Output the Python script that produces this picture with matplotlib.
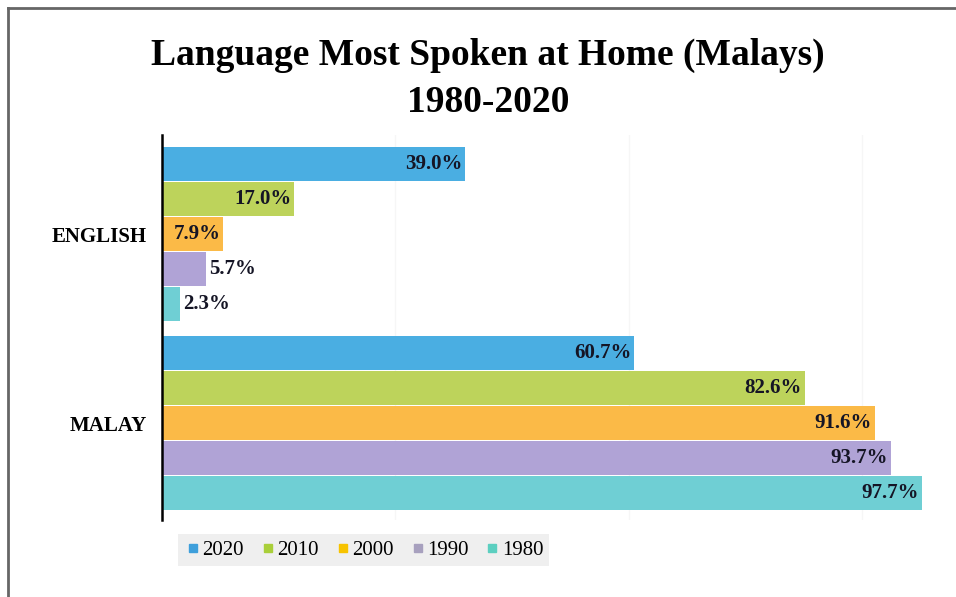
import numpy as np
import matplotlib.pyplot as plt
from matplotlib.lines import Line2D

languages = ['ENGLISH', 'MALAY']
years = ['2020', '2010', '2000', '1990', '1980']
english = [39.0, 17.0, 7.9, 5.7, 2.3]
malay = [60.7, 82.6, 91.6, 93.7, 97.7]
colors = ['#4AAEE2', '#BDD35B', '#FBBA47', '#B0A3D6', '#6FCFD4']
legend_colors = ['#3E9FDB', '#A9CF3A', '#F7C300', '#A7A0BE', '#5CCFC0']

serif = 'Liberation Serif'

fig = plt.figure(figsize=(9.56, 5.97), dpi=100)
ax = fig.add_axes([162 / 956, 1 - 520 / 597, (940 - 162) / 956, (520 - 135) / 597])

bar_h = 0.185
values = np.array([english, malay])  # rows: language, cols: year
y_base = np.arange(len(languages))
offsets = (np.arange(len(years)) - 2) * bar_h

for j, yr in enumerate(years):
    ys = y_base + offsets[j]
    bars = ax.barh(ys, values[:, j], height=bar_h * 0.96, color=colors[j], label=yr)
    for b, v in zip(bars, values[:, j]):
        yc = b.get_y() + b.get_height() / 2
        # labels go inside the bar end when they fit, otherwise just outside
        if v >= 7.5:
            ax.text(v - 0.4, yc, f'{v:.1f}%', ha='right', va='center',
                    fontsize=15, fontweight='bold', family=serif, color='#151525')
        else:
            ax.text(v + 0.4, yc, f'{v:.1f}%', ha='left', va='center',
                    fontsize=15, fontweight='bold', family=serif, color='#151525')

ax.set_xlim(0, 100)
ax.set_ylim(1.513, -0.524)
ax.set_yticks(y_base)
ax.set_yticklabels(languages, fontsize=15, fontweight='bold', family=serif)
ax.tick_params(axis='y', length=0, pad=11)
ax.set_xticks([30, 60, 90])
ax.set_xticklabels([])
ax.tick_params(axis='x', length=0)
ax.grid(axis='x', color='#f6f6f6', linewidth=1)
ax.set_axisbelow(True)
for s in ['top', 'right', 'bottom']:
    ax.spines[s].set_visible(False)
ax.spines['left'].set_linewidth(1.8)
ax.spines['left'].set_color('black')

fig.text(488 / 956, 1 - 55 / 597, 'Language Most Spoken at Home (Malays)', ha='center', va='center',
         fontsize=27, fontweight='bold', family=serif)
fig.text(488 / 956, 1 - 102 / 597, '1980-2020', ha='center', va='center',
         fontsize=27, fontweight='bold', family=serif)

handles = [Line2D([], [], marker='s', linestyle='none', markersize=6, color=c) for c in legend_colors]
leg = fig.legend(handles, years, loc='center left', bbox_to_anchor=(168 / 956, 1 - 550 / 597),
                 ncol=5, frameon=True, prop={'family': serif, 'size': 15},
                 handletextpad=0.05, columnspacing=0.75, handlelength=0.8, borderpad=0.3)
leg.get_frame().set_facecolor('#ebebeb')
leg.get_frame().set_edgecolor('none')
leg.get_frame().set_boxstyle('square', pad=0)

# page border (top and left visible)
fig.add_artist(Line2D([8 / 956, 1], [1 - 8 / 597, 1 - 8 / 597], color='#666666', linewidth=2))
fig.add_artist(Line2D([8 / 956, 8 / 956], [0, 1 - 8 / 597], color='#666666', linewidth=2))

fig.savefig('out.png', dpi=100)
